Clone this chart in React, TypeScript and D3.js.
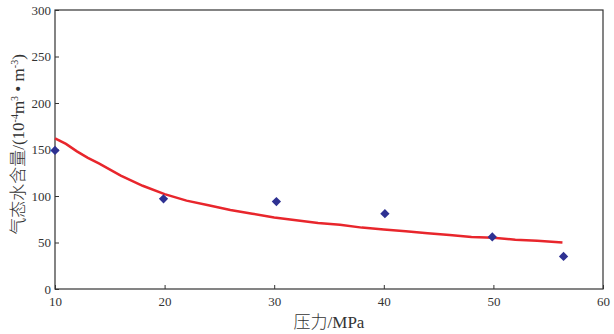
import * as d3 from "d3";
import { useEffect, useRef } from "react";

// measured points
const pressure = [10, 19.9, 30.2, 40.1, 49.9, 56.4];
const waterContent = [149, 97, 94, 81, 56, 35];

// fitted curve
const curveX = [10, 11, 12, 13, 14, 16, 18, 20, 22, 24, 26, 28, 30, 32, 34, 36, 38, 40, 42, 44, 46, 48, 50, 52, 54, 56.3];
const curveY = [162, 156, 148, 141, 135, 122, 111, 102, 95, 90, 85, 81, 77, 74, 71, 69, 66, 64, 62, 60, 58, 56, 55, 53, 52, 50];

const xTicks = [10, 20, 30, 40, 50, 60];
const yTicks = [0, 50, 100, 150, 200, 250, 300];

const serif = "'Liberation Serif', 'Times New Roman', serif";

function drawChart(svgEl: SVGSVGElement) {
    const svg = d3.select(svgEl);
    svg.selectAll("*").remove();

    const margin = { top: 10, right: 11, bottom: 45, left: 55 };
    const width = 614 - margin.left - margin.right;
    const height = 334 - margin.top - margin.bottom;

    const chart = svg
        .append("g")
        .attr("transform", `translate(${margin.left},${margin.top})`);

    const x = d3.scaleLinear().domain([10, 60]).range([0, width]);
    const y = d3.scaleLinear().domain([0, 300]).range([height, 0]);

    // frame
    chart
        .append("rect")
        .attr("width", width)
        .attr("height", height)
        .attr("fill", "none")
        .attr("stroke", "#333")
        .attr("stroke-width", 1.2);

    // bottom axis, ticks pointing inward
    const xAxis = chart
        .append("g")
        .attr("transform", `translate(0,${height})`)
        .call(d3.axisBottom(x).tickValues(xTicks).tickSizeInner(-4).tickSizeOuter(0).tickPadding(8));
    xAxis.select(".domain").remove();

    const yAxis = chart
        .append("g")
        .call(d3.axisLeft(y).tickValues(yTicks).tickSizeInner(-4).tickSizeOuter(0).tickPadding(4));
    yAxis.select(".domain").remove();

    [xAxis, yAxis].forEach((g) => {
        g.attr("font-family", serif);
        g.selectAll("line").attr("stroke", "#333");
        g.selectAll("text")
            .attr("font-family", serif)
            .attr("font-size", 13)
            .attr("fill", "#333");
    });

    // curve
    const line = d3
        .line<number>()
        .x((_, i) => x(curveX[i]))
        .y((d) => y(d));

    chart
        .append("path")
        .datum(curveY)
        .attr("d", line)
        .attr("fill", "none")
        .attr("stroke", "#E8262C")
        .attr("stroke-width", 2.5);

    // diamonds
    chart
        .selectAll(".pt")
        .data(waterContent)
        .join("path")
        .attr("class", "pt")
        .attr("transform", (d, i) => `translate(${x(pressure[i])},${y(d)})`)
        .attr("d", d3.symbol(d3.symbolDiamond2, 55)())
        .attr("fill", "#2E3192");

    // x label
    svg.append("text")
        .attr("x", margin.left + width / 2)
        .attr("y", 328)
        .attr("text-anchor", "middle")
        .attr("font-family", `${serif}, 'Noto Sans CJK SC'`)
        .attr("font-size", 17)
        .attr("font-weight", 300)
        .attr("fill", "#333")
        .text("压力/MPa");

    // y label
    const yl = svg
        .append("text")
        .attr("transform", `translate(24, ${margin.top + height / 2 - 5}) rotate(-90)`)
        .attr("text-anchor", "middle")
        .attr("font-family", `${serif}, 'Noto Sans CJK SC'`)
        .attr("font-size", 17)
        .attr("font-weight", 300)
        .attr("fill", "#333");
    yl.append("tspan").text("气态水含量/(10");
    yl.append("tspan").attr("dy", -6).attr("font-size", 10).text("-4");
    yl.append("tspan").attr("dy", 6).text("m");
    yl.append("tspan").attr("dy", -6).attr("font-size", 10).text("3");
    yl.append("tspan").attr("dy", 6).text(" • m");
    yl.append("tspan").attr("dy", -6).attr("font-size", 10).text("-3");
    yl.append("tspan").attr("dy", 6).text(")");
}

export default function App() {
    const ref = useRef<SVGSVGElement | null>(null);

    useEffect(() => {
        if (ref.current) drawChart(ref.current);
    }, []);

    return (
        <svg
            ref={ref}
            width={614}
            height={334}
            style={{ position: "absolute", left: 0, top: 0, background: "#fff" }}
        />
    );
}
